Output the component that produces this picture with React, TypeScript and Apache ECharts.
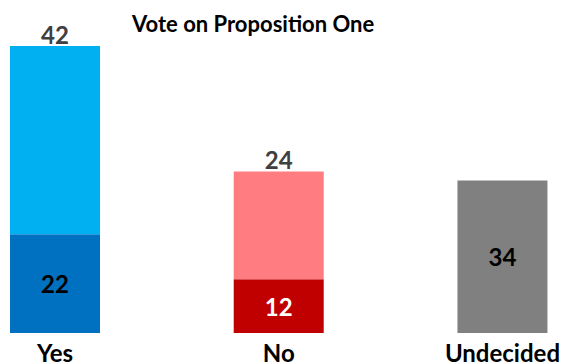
import React, { useEffect, useRef } from "react";
import * as echarts from "echarts";

const categories = ["Yes", "No", "Undecided"];
const baseValues = [22, 12, 34];
const topValues: (number | null)[] = [42, 24, null];
const baseColors = ["#0070C0", "#C00000", "#808080"];
const topColors = ["#00B0F0", "#FF7C80", "#808080"];
const baseLabelColors = ["#000000", "#FFFFFF", "#000000"];
const titleText = "Vote on Proposition One";

export default function App() {
  const ref = useRef<HTMLDivElement>(null);
  useEffect(() => {
    if (!ref.current) return;
    const chart = echarts.init(ref.current, null, { renderer: "svg" });
    const font = "Lato";
    chart.setOption({
      animation: false,
      backgroundColor: "#ffffff",
      title: {
        text: titleText,
        left: 127,
        top: 7,
        textStyle: { fontFamily: font, fontWeight: "bold", fontSize: 22, color: "#000" },
      },
      grid: { left: 55, right: 60, top: 46, bottom: 25, containLabel: false },
      xAxis: {
        type: "category",
        data: categories,
        boundaryGap: false,
        axisLine: { show: false },
        axisTick: { show: false },
        axisLabel: {
          fontFamily: font,
          fontWeight: "bold",
          fontSize: 24,
          color: "#000",
          margin: 7,
          interval: 0,
        },
      },
      yAxis: {
        type: "value",
        min: 0,
        max: 64,
        show: false,
        splitLine: { show: false },
      },
      series: [
        {
          type: "bar",
          stack: "s",
          barWidth: 90,
          data: baseValues.map((v, i) => ({
            value: v,
            itemStyle: { color: baseColors[i] },
            label: { color: baseLabelColors[i] },
          })),
          label: {
            show: true,
            position: "inside",
            fontFamily: font,
            fontWeight: "bold",
            fontSize: 24,
          },
        },
        {
          type: "bar",
          stack: "s",
          barWidth: 90,
          data: topValues.map((v, i) => ({
            value: v,
            itemStyle: { color: topColors[i] },
          })),
          label: {
            show: true,
            position: "top",
            distance: 0,
            fontFamily: font,
            fontWeight: "bold",
            fontSize: 24,
            color: "#404040",
          },
        },
      ],
    });
    return () => chart.dispose();
  }, []);
  return (
    <div
      ref={ref}
      style={{ position: "fixed", left: 0, top: 0, width: 563, height: 364 }}
    />
  );
}
